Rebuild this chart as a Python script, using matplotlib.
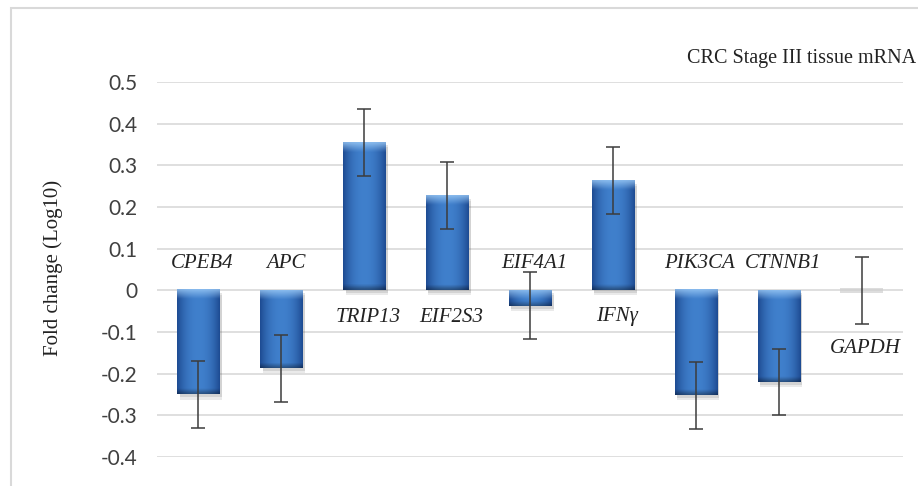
import numpy as np
import matplotlib.pyplot as plt
from matplotlib.patches import Rectangle

# genes and log10 fold change with error
genes = ['CPEB4', 'APC', 'TRIP13', 'EIF2S3', 'EIF4A1', 'IFNγ', 'PIK3CA', 'CTNNB1', 'GAPDH']
fold = [-0.25, -0.187, 0.355, 0.227, -0.037, 0.263, -0.252, -0.22, 0.0]
err = [0.08, 0.08, 0.08, 0.08, 0.08, 0.08, 0.08, 0.08, 0.08]
yticks = [0.5, 0.4, 0.3, 0.2, 0.1, 0, -0.1, -0.2, -0.3, -0.4]

fig = plt.figure(figsize=(9.18, 4.86), dpi=100)
fig.patch.set_facecolor('white')

# light frame round the chart
fig.patches.append(Rectangle((11 / 918, -0.1), 1.2, 1 - 8 / 486 + 0.1, transform=fig.transFigure,
                             fill=False, edgecolor='#d9d9d9', linewidth=1.5))

ax = fig.add_axes([157 / 918, 1 - 457 / 486, 746 / 918, 375 / 486])
x = np.arange(len(genes))
w = 0.51

ax.set_yticks(yticks)
ax.set_yticklabels(['0' if v == 0 else f'{v:g}' for v in yticks])
ax.yaxis.grid(True, color='#d9d9d9', linewidth=1.2)
ax.set_axisbelow(True)
for s in ax.spines.values():
    s.set_visible(False)
ax.tick_params(axis='y', length=0, pad=14, labelsize=15, labelcolor='#404040')
ax.tick_params(axis='x', length=0, labelbottom=False)
for t in ax.get_yticklabels():
    t.set_fontfamily('Lato')

# shaded blue bars
mid = np.array([0.25, 0.50, 0.80])
edge = np.array([0.12, 0.30, 0.58])
light = np.array([0.62, 0.80, 0.97])
W, H = 40, 80
t = np.linspace(0, 1, W)
hw = np.abs(2 * t - 1) ** 2.2
row = mid[None, :] * (1 - hw[:, None]) + edge[None, :] * hw[:, None]

for xi, v in zip(x, fold):
    if abs(v) < 0.01:
        # faint smear for the reference gene
        ax.add_patch(Rectangle((xi - w / 2, -0.006), w, 0.012, color='#cfcfcf', alpha=0.7, zorder=2, lw=0))
        continue
    lo, hi = min(0, v), max(0, v)
    hpx = (hi - lo) * 417
    for k, a in [(0.012, 0.12), (0.007, 0.15)]:
        ax.add_patch(Rectangle((xi - w / 2 + 0.03, lo - k), w, hi - lo, color='#555555',
                               alpha=a, lw=0, zorder=2))
    img = np.repeat(row[None, :, :], H, axis=0)
    yy = np.linspace(0, hpx, H)
    top = np.clip(1 - yy / 9, 0, 1)[:, None, None] * 0.75
    img = img * (1 - top) + light[None, None, :] * top
    bot = np.clip(1 - (hpx - yy) / 5, 0, 1)[:, None, None] * 0.35
    img = img * (1 - bot)
    ax.imshow(img, extent=(xi - w / 2, xi + w / 2, lo, hi), aspect='auto', origin='upper',
              zorder=3, interpolation='bilinear')

ax.errorbar(x, fold, yerr=err, fmt='none', ecolor='#3c3c3c', elinewidth=1.1,
            capsize=4.8, capthick=1.1, zorder=4)

# gene names on the other side of the axis
for xi, v, g in zip(x, fold, genes):
    if v < 0:
        ly = 0.064
    elif v > 0:
        ly = -0.064
    else:
        ly = -0.14
    ax.text(xi + 0.05, ly, g, ha='center', va='center', fontsize=15, style='italic',
            family='Liberation Serif', color='#222222', zorder=5)

ax.set_xlim(-0.5, len(genes) - 0.5)
ax.set_ylim(-0.4, 0.5)

fig.text(53 / 918, 1 - 268 / 486, 'Fold change (Log10)', rotation=90, ha='center', va='center',
         fontsize=15, family='Liberation Serif', color='#222222')
fig.text(916 / 918, 1 - 58 / 486, 'CRC Stage III tissue mRNA', ha='right', va='center',
         fontsize=14.5, family='Liberation Serif', color='#222222')

fig.savefig('out.png', dpi=100)
